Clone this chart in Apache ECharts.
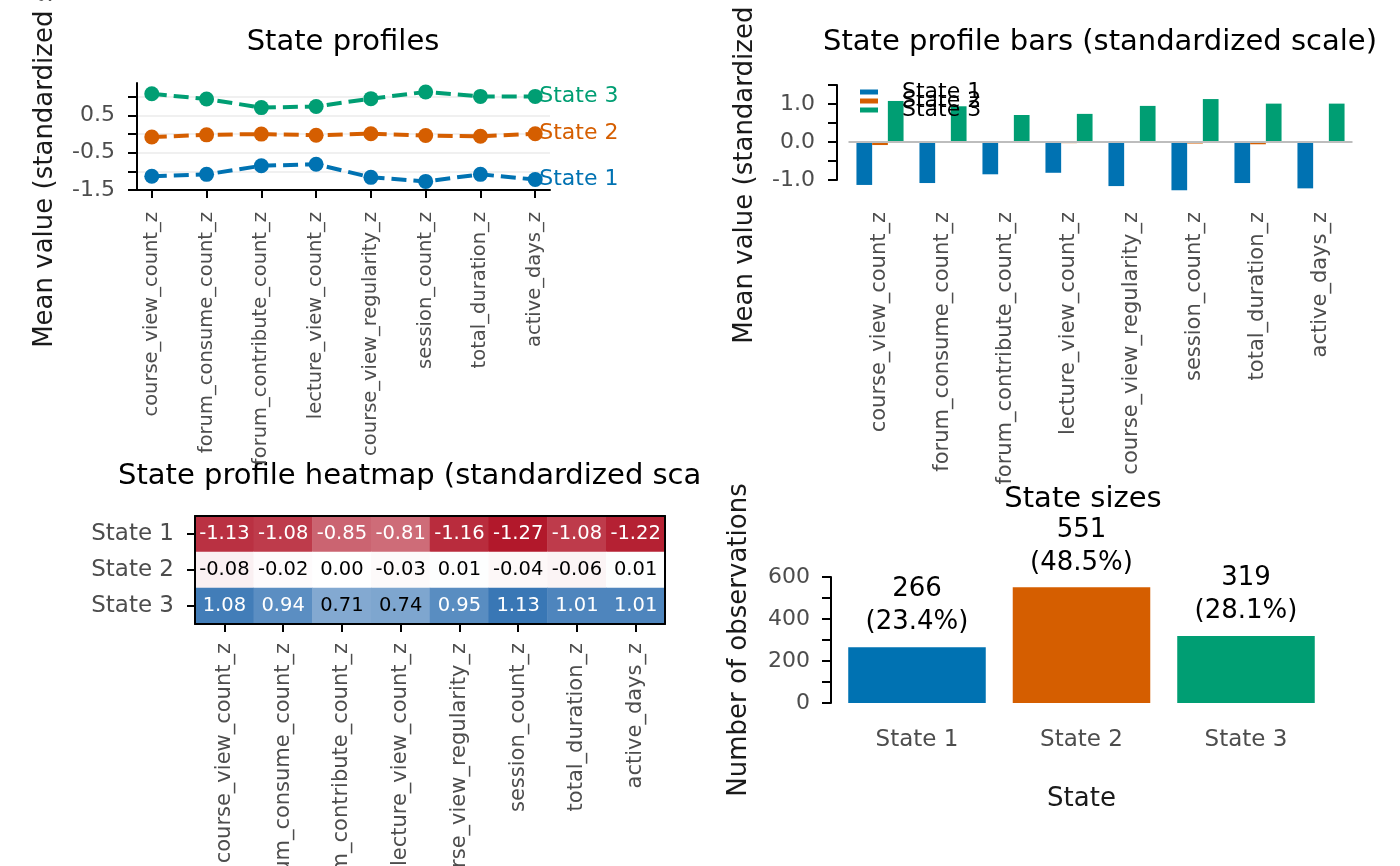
<!DOCTYPE html>
<html><head><meta charset="utf-8">
<script src="https://cdn.jsdelivr.net/npm/echarts@6/dist/echarts.min.js"></script>
<style>html,body{margin:0;padding:0;background:#fff}#c{width:1400px;height:866px}</style>
</head><body><div id="c"></div>
<script>
const variables = ['course_view_count_z','forum_consume_count_z','forum_contribute_count_z','lecture_view_count_z','course_view_regularity_z','session_count_z','total_duration_z','active_days_z'];
const states = ['State 1','State 2','State 3'];
const state1Means = [-1.13,-1.08,-0.85,-0.81,-1.16,-1.27,-1.08,-1.22];
const state2Means = [-0.08,-0.02,0.00,-0.03,0.01,-0.04,-0.06,0.01];
const state3Means = [1.08,0.94,0.71,0.74,0.95,1.13,1.01,1.01];
const stateCounts = [266,551,319];
const profileTicks = [-1.5,-1,-0.5,0,0.5,1];
const profileLabels = [-1.5,-0.5,0.5];
const barTicks = [-1,-0.5,0,0.5,1,1.5];
const barLabels = [-1,0,1];
const sizeTicks = [0,100,200,300,400,500,600];
const sizeLabels = [0,200,400,600];
const varIndex = [0,1,2,3,4,5,6,7];

const colors = ['#0072B2','#D55E00','#009E73'];
const means = [state1Means, state2Means, state3Means];
const FONT = 'DejaVu Sans';
const AX = '#4d4d4d';
const total = stateCounts.reduce((a,b)=>a+b,0);

const chart = echarts.init(document.getElementById('c'), null, {renderer:'canvas'});

const blackLine = {show:true, onZero:false, lineStyle:{color:'#000', width:2}};
const blackTick = {show:true, length:9, lineStyle:{color:'#000', width:2}};

const series = [];
means.forEach((m,i)=>{
  series.push({
    type:'line', name:'profile '+states[i], xAxisIndex:0, yAxisIndex:0,
    data: m.map((v,j)=>[varIndex[j], v]),
    symbol:'circle', symbolSize:15,
    lineStyle:{color:colors[i], width:4, type:[15,7]},
    itemStyle:{color:colors[i]},
    endLabel:{show:true, formatter:states[i], color:colors[i], fontSize:22, fontFamily:FONT, distance:4},
    z:3
  });
});
means.forEach((m,i)=>{
  const s = {
    type:'bar', name:states[i], xAxisIndex:1, yAxisIndex:1,
    data:m, barWidth:15.7, barGap:'0%', clip:false,
    itemStyle:{color:colors[i]}
  };
  if(i===0){
    s.markLine = {silent:true, symbol:'none', label:{show:false},
      lineStyle:{color:'#bdbdbd', width:2, type:'solid'}, data:[{yAxis:0}]};
  }
  series.push(s);
});
const heatData = [];
means.forEach((m,i)=>m.forEach((v,j)=>{
  heatData.push({value:[j,i,v], label:{color: Math.abs(v)>0.78 ? '#fff' : '#000'}});
}));
series.push({
  type:'heatmap', xAxisIndex:2, yAxisIndex:2, data:heatData,
  label:{show:true, fontSize:19.5, fontFamily:FONT, formatter:p=>p.value[2].toFixed(2)},
  itemStyle:{borderWidth:0}
});
series.push({
  type:'bar', name:'sizes', xAxisIndex:4, yAxisIndex:4,
  data: stateCounts.map((v,i)=>({value:v, itemStyle:{color:colors[i]}})),
  barWidth:'83.6%',
  label:{show:true, position:'top', distance:8, fontSize:26, lineHeight:33, fontFamily:FONT, color:'#000',
    formatter:p=>p.value+'\n('+(p.value/total*100).toFixed(1)+'%)'}
});

const titleFont = '29px "DejaVu Sans"';
const nameStyle = {fontSize:26, color:'#1a1a1a', fontFamily:FONT};
const option = {
  animation:false,
  backgroundColor:'#fff',
  textStyle:{fontFamily:FONT},
  graphic:[
    {type:'text', x:343, y:42, style:{text:'State profiles', font:titleFont, fill:'#000', textAlign:'center', textVerticalAlign:'middle'}},
    {type:'text', x:1100, y:42, style:{text:'State profile bars (standardized scale)', font:titleFont, fill:'#000', textAlign:'center', textVerticalAlign:'middle'}},
    {type:'text', x:118, y:476, style:{text:'State profile heatmap (standardized scale)', font:titleFont, fill:'#000', textAlign:'left', textVerticalAlign:'middle', width:585, overflow:'truncate', ellipsis:''}},
    {type:'text', x:1083, y:499, style:{text:'State sizes', font:titleFont, fill:'#000', textAlign:'center', textVerticalAlign:'middle'}}
  ],
  legend:{
    data:states.map(s=>({name:s, icon:'rect'})),
    orient:'vertical', left:860, top:81, padding:0, itemWidth:18, itemHeight:5, itemGap:-13,
    textStyle:{fontSize:22, fontFamily:FONT, color:'#000', padding:[0,0,0,19]}
  },
  visualMap:{type:'continuous', show:false, seriesIndex:6, min:-1.27, max:1.27,
    inRange:{color:['#b2182b','#ffffff','#2166ac']}},
  grid:[
    {left:137, top:83, width:413, height:107, outerBoundsMode:'none', containLabel:false},
    {left:848.5, top:85, width:504, height:95, outerBoundsMode:'none', containLabel:false},
    {left:195, top:516, width:470, height:108, outerBoundsMode:'none', containLabel:false},
    {left:834.75, top:577, width:493.5, height:126, outerBoundsMode:'none', containLabel:false}
  ],
  xAxis:[
    {gridIndex:0, type:'value', min:-0.27, max:7.27,
      axisLine:blackLine, axisTick:Object.assign({customValues:varIndex}, blackTick, {length:8}),
      axisLabel:{customValues:varIndex, rotate:90, fontSize:19.5, color:AX, margin:22, formatter:v=>variables[v]},
      splitLine:{show:false}},
    {gridIndex:1, type:'category', data:variables,
      axisLine:{show:false}, axisTick:{show:false},
      axisLabel:{rotate:90, interval:0, fontSize:21, color:AX, margin:32}},
    {gridIndex:2, type:'category', data:variables, position:'bottom', z:10,
      axisLine:blackLine, axisTick:Object.assign({alignWithLabel:true}, blackTick, {length:8}),
      axisLabel:{rotate:90, interval:0, fontSize:21, color:AX, margin:19}},
    {gridIndex:2, type:'category', data:variables, position:'top', z:10,
      axisLine:blackLine, axisTick:{show:false}, axisLabel:{show:false}},
    {gridIndex:3, type:'category', data:states,
      axisLine:{show:false}, axisTick:{show:false},
      axisLabel:{fontSize:23, color:AX, margin:26},
      name:'State', nameLocation:'middle', nameGap:83, nameTextStyle:nameStyle}
  ],
  yAxis:[
    {gridIndex:0, type:'value', min:-1.5, max:1.37,
      axisLine:blackLine, axisTick:Object.assign({customValues:profileTicks}, blackTick),
      axisLabel:{customValues:profileLabels, fontSize:22, color:AX, margin:22},
      splitLine:{show:true, lineStyle:{color:'#ebebeb', width:1.5}},
      name:'Mean value (standardized scale)', nameLocation:'middle', nameGap:79, nameTextStyle:nameStyle},
    {gridIndex:1, type:'value', min:-1, max:1.5, offset:11.5,
      axisLine:blackLine, axisTick:Object.assign({customValues:barTicks}, blackTick),
      axisLabel:{customValues:barLabels, fontSize:22, color:AX, margin:22, formatter:v=>v.toFixed(1)},
      splitLine:{show:false},
      name:'Mean value (standardized scale)', nameLocation:'middle', nameGap:79, nameTextStyle:nameStyle},
    {gridIndex:2, type:'category', data:states, inverse:true, position:'left', z:10,
      axisLine:blackLine, axisTick:Object.assign({alignWithLabel:true}, blackTick, {length:8}),
      axisLabel:{fontSize:23, color:AX, margin:21}},
    {gridIndex:2, type:'category', data:states, inverse:true, position:'right', z:10,
      axisLine:blackLine, axisTick:{show:false}, axisLabel:{show:false}},
    {gridIndex:3, type:'value', min:0, max:600, offset:3.75,
      axisLine:blackLine, axisTick:Object.assign({customValues:sizeTicks}, blackTick),
      axisLabel:{customValues:sizeLabels, fontSize:22, color:AX, margin:21},
      splitLine:{show:false},
      name:'Number of observations', nameLocation:'middle', nameGap:79, nameTextStyle:nameStyle}
  ],
  series:series
};
chart.setOption(option);
</script>
</body></html>
